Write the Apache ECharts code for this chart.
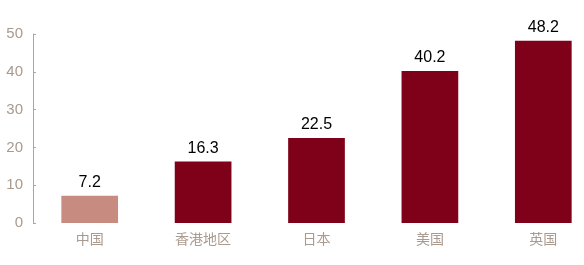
<!DOCTYPE html>
<html><head><meta charset="utf-8">
<script src="https://cdn.jsdelivr.net/npm/echarts@6/dist/echarts.min.js"></script>
<style>html,body{margin:0;padding:0;background:#fff;overflow:hidden}#c{width:600px;height:265px}</style>
</head><body><div id="c"></div>
<script>
const categories = ['中国', '香港地区', '日本', '美国', '英国'];
const values = [7.2, 16.3, 22.5, 40.2, 48.2];
const highlightIndex = 0;

const chart = echarts.init(document.getElementById('c'), null, {renderer: 'canvas'});
chart.setOption({
  animation: false,
  grid: {left: 33, right: 0, top: 34, bottom: 42},
  xAxis: {
    type: 'category', data: categories,
    axisLine: {show: false}, axisTick: {show: false},
    axisLabel: {color: '#a89a8e', fontSize: 14, margin: 9, fontFamily: 'Noto Sans CJK SC'}
  },
  yAxis: {
    type: 'value', min: 0, max: 50, interval: 10,
    splitLine: {show: false},
    axisLine: {show: true, lineStyle: {color: '#b0a49c'}},
    axisTick: {show: true, inside: true, length: 3, lineStyle: {color: '#b0a49c'}},
    axisLabel: {color: '#a89a8e', fontSize: 15, margin: 10, fontFamily: 'Liberation Sans'}
  },
  series: [{
    type: 'bar', barWidth: '50%',
    data: values.map((v, i) => ({value: v, itemStyle: {color: i === highlightIndex ? '#c78b80' : '#7f0019'}})),
    label: {show: true, position: 'top', distance: 5, color: '#000', fontSize: 16, fontFamily: 'Liberation Sans'}
  }]
});
</script></body></html>
